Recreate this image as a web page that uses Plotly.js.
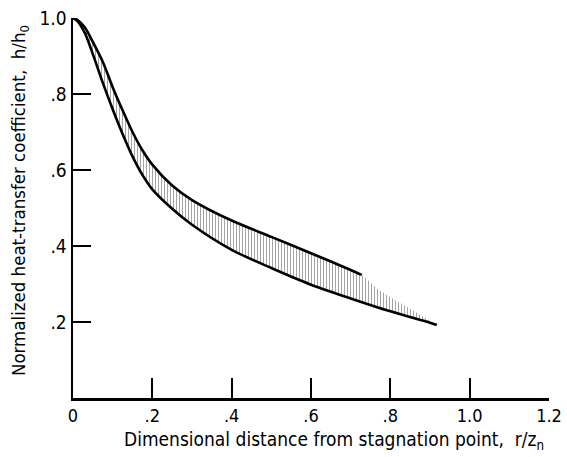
<!DOCTYPE html>
<html>
<head>
<meta charset="utf-8">
<script src="https://cdn.plot.ly/plotly-3.0.1.min.js"></script>
<style>html,body{margin:0;padding:0;background:#fff}#chart{width:567px;height:457px}</style>
</head>
<body>
<div id="chart"></div>
<script>
// Upper bound curve of the band
const upperX = [0, 0.01, 0.03, 0.05, 0.075, 0.1, 0.125, 0.15, 0.175, 0.2, 0.25, 0.3, 0.4, 0.5, 0.6, 0.7, 0.728];
const upperY = [1.0, 0.996, 0.975, 0.937, 0.885, 0.818, 0.757, 0.70, 0.652, 0.614, 0.559, 0.521, 0.467, 0.424, 0.381, 0.337, 0.324];
// Lower bound curve of the band
const lowerX = [0, 0.01, 0.03, 0.05, 0.075, 0.1, 0.125, 0.15, 0.175, 0.2, 0.25, 0.3, 0.4, 0.5, 0.6, 0.7, 0.8, 0.9, 0.917];
const lowerY = [1.0, 0.993, 0.96, 0.905, 0.83, 0.76, 0.695, 0.636, 0.587, 0.549, 0.498, 0.456, 0.39, 0.342, 0.298, 0.262, 0.228, 0.198, 0.192];
// Faint continuation of the shaded band beyond the upper curve
const tailX = [0.773, 0.842, 0.917];
const tailY = [0.283, 0.24, 0.192];

const xTickVals = [0, 0.2, 0.4, 0.6, 0.8, 1.0, 1.2];
const xTickText = ['0', '.2', '.4', '.6', '.8', '1.0', '1.2'];
const yTickVals = [0.2, 0.4, 0.6, 0.8, 1.0];
const yTickText = ['.2', '.4', '.6', '.8', '1.0'];

const FONT = '"DejaVu Sans Condensed", "Liberation Sans Narrow", "DejaVu Sans", sans-serif';

// closed polygon for shaded band
const bandX = upperX.concat(tailX).concat(lowerX.slice().reverse());
const bandY = upperY.concat(tailY).concat(lowerY.slice().reverse());

const traces = [
  {x: bandX, y: bandY, mode: 'lines', fill: 'toself', line: {width: 0, color: 'rgba(0,0,0,0)', shape: 'spline', smoothing: 0.8},
   fillcolor: 'rgba(255,255,255,0)',
   fillpattern: {shape: '|', fgcolor: '#9a9a9a', bgcolor: 'rgba(255,255,255,0)', size: 3, solidity: 0.3},
   hoverinfo: 'skip', showlegend: false},
  {x: upperX, y: upperY, mode: 'lines', line: {color: '#000', width: 2.6, shape: 'spline', smoothing: 0.8}, showlegend: false},
  {x: lowerX, y: lowerY, mode: 'lines', line: {color: '#000', width: 2.6, shape: 'spline', smoothing: 0.8}, showlegend: false}
];

const layout = {
  width: 567, height: 457,
  margin: {l: 73, r: 18, t: 18, b: 59},
  paper_bgcolor: '#fff', plot_bgcolor: '#fff',
  showlegend: false,
  font: {family: FONT, color: '#000', size: 17},
  xaxis: {
    range: [0, 1.2], showgrid: false, zeroline: false,
    showline: true, linecolor: '#000', linewidth: 2.5,
    ticks: 'inside', ticklen: 20, tickwidth: 2, tickcolor: '#000',
    tickvals: xTickVals, ticktext: xTickText,
    tickfont: {family: FONT, size: 18, color: '#000'}
  },
  yaxis: {
    range: [0, 1.0], showgrid: false, zeroline: false,
    showline: true, linecolor: '#000', linewidth: 2.5,
    ticks: 'inside', ticklen: 18, tickwidth: 2, tickcolor: '#000',
    tickvals: yTickVals, ticktext: yTickText,
    tickfont: {family: FONT, size: 19, color: '#000'}
  },
  annotations: [
    {text: 'Dimensional distance from stagnation point,  r/z<sub>n</sub>', xref: 'paper', yref: 'paper',
     x: 0.548, y: -0.112, xanchor: 'center', yanchor: 'middle', showarrow: false,
     font: {family: FONT, size: 19, color: '#000'}},
    {text: 'Normalized heat-transfer coefficient,  h/h<sub>0</sub>', xref: 'paper', yref: 'paper',
     x: -0.11, y: 0.52, xanchor: 'center', yanchor: 'middle', showarrow: false, textangle: -90,
     font: {family: FONT, size: 18.5, color: '#000'}}
  ]
};

Plotly.newPlot('chart', traces, layout, {displayModeBar: false, staticPlot: true});
</script>
</body>
</html>
